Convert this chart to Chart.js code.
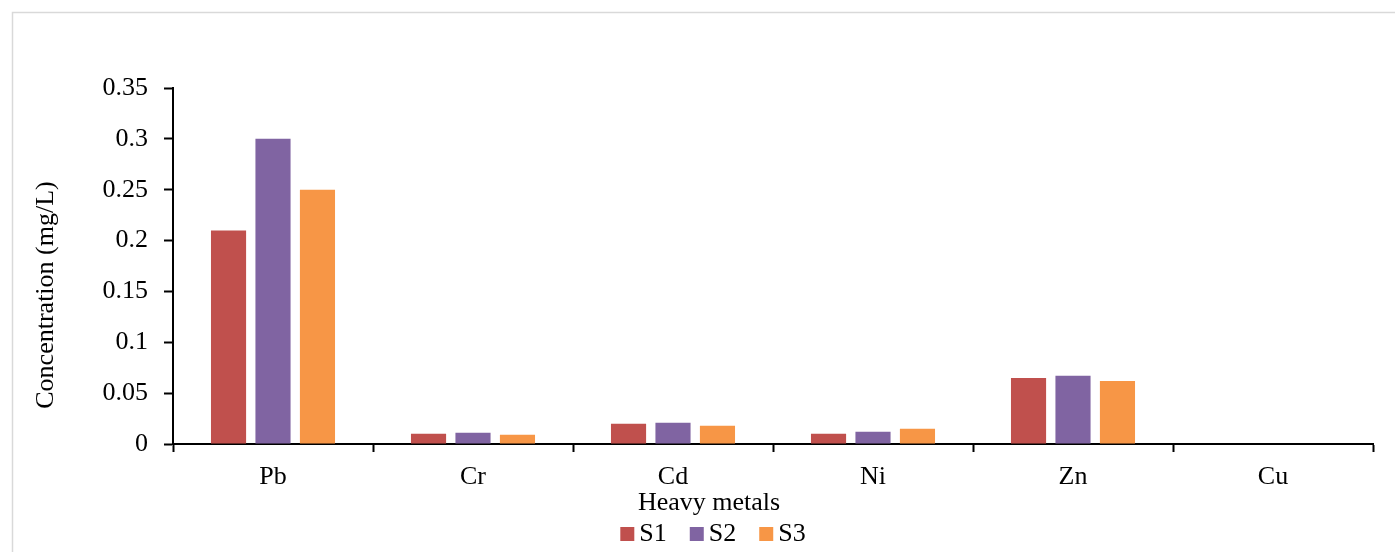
<!DOCTYPE html>
<html>
<head>
<meta charset="utf-8">
<script src="https://cdn.jsdelivr.net/npm/chart.js@4/dist/chart.umd.min.js"></script>
<style>
html,body{margin:0;padding:0;background:#fff;}
#wrap{width:1395px;height:552px;position:relative;}
</style>
</head>
<body>
<div id="wrap"><canvas id="c" width="1395" height="552"></canvas></div>
<script>
const categories = ["Pb", "Cr", "Cd", "Ni", "Zn", "Cu"];
const seriesNames = ["S1", "S2", "S3"];
const s1 = [0.21, 0.010, 0.020, 0.010, 0.065, 0.0005];
const s2 = [0.30, 0.011, 0.021, 0.012, 0.067, 0.0];
const s3 = [0.25, 0.009, 0.018, 0.015, 0.062, 0.0005];
const seriesColors = ["#C0504D", "#8064A2", "#F79646"];
const yTickLabels = ["0", "0.05", "0.1", "0.15", "0.2", "0.25", "0.3", "0.35"];
const xTitle = "Heavy metals";
const yTitle = "Concentration (mg/L)";

const FONT = "'Liberation Serif', 'Times New Roman', serif";

const overlay = {
  id: 'overlay',
  beforeDraw(chart) {
    const ctx = chart.ctx;
    ctx.save();
    ctx.fillStyle = '#fff';
    ctx.fillRect(0, 0, chart.width, chart.height);
    ctx.strokeStyle = '#D9D9D9';
    ctx.lineWidth = 1.5;
    ctx.strokeRect(12.5, 12.5, 1400, 600);
    ctx.restore();
  },
  afterDraw(chart) {
    const ctx = chart.ctx;
    ctx.save();
    ctx.fillStyle = '#000';
    ctx.font = "26px " + FONT;
    ctx.textAlign = 'center';
    ctx.textBaseline = 'middle';
    ctx.fillText(xTitle, 709, 503);
    ctx.save();
    ctx.translate(46, 295);
    ctx.rotate(-Math.PI / 2);
    ctx.fillText(yTitle, 0, 0);
    ctx.restore();
    // legend
    const box = 14, gap = 5, itemGap = 23;
    ctx.textAlign = 'left';
    const widths = chart.data.datasets.map(d => box + gap + ctx.measureText(d.label).width);
    const total = widths.reduce((a, b) => a + b, 0) + itemGap * (widths.length - 1);
    let x = 713 - total / 2;
    const cy = 534;
    chart.data.datasets.forEach((d, i) => {
      ctx.fillStyle = d.backgroundColor;
      ctx.fillRect(x, cy - box / 2, box, box);
      ctx.fillStyle = '#000';
      ctx.fillText(d.label, x + box + gap, cy);
      x += widths[i] + itemGap;
    });
    ctx.restore();
  }
};

new Chart(document.getElementById('c'), {
  type: 'bar',
  data: {
    labels: categories,
    datasets: [s1, s2, s3].map((vals, i) => ({
      label: seriesNames[i],
      data: vals,
      backgroundColor: seriesColors[i],
      borderWidth: 0,
      categoryPercentage: 0.667,
      barPercentage: 0.79
    }))
  },
  options: {
    responsive: false,
    animation: false,
    layout: { padding: { left: 0, right: 22, top: 88, bottom: 0 } },
    plugins: {
      legend: { display: false },
      tooltip: { enabled: false },
      title: { display: false }
    },
    scales: {
      x: {
        offset: true,
        grid: {
          offset: true,
          drawOnChartArea: false,
          drawTicks: true,
          tickLength: 8,
          tickColor: '#000',
          tickWidth: 2
        },
        border: { display: true, color: '#000', width: 2 },
        ticks: {
          color: '#000',
          font: { family: FONT, size: 26 },
          padding: 10,
          maxRotation: 0
        },
        afterFit(scale) { scale.height = 108; }
      },
      y: {
        min: 0,
        max: 0.35,
        grid: {
          drawOnChartArea: false,
          drawTicks: true,
          tickLength: 9,
          tickColor: '#000',
          tickWidth: 2
        },
        border: { display: true, color: '#000', width: 2 },
        ticks: {
          stepSize: 0.05,
          color: '#000',
          font: { family: FONT, size: 26 },
          padding: 16,
          callback: (v) => yTickLabels[Math.round(v / 0.05)]
        },
        afterFit(scale) { scale.width = 173; }
      }
    }
  },
  plugins: [overlay]
});
</script>
</body>
</html>
